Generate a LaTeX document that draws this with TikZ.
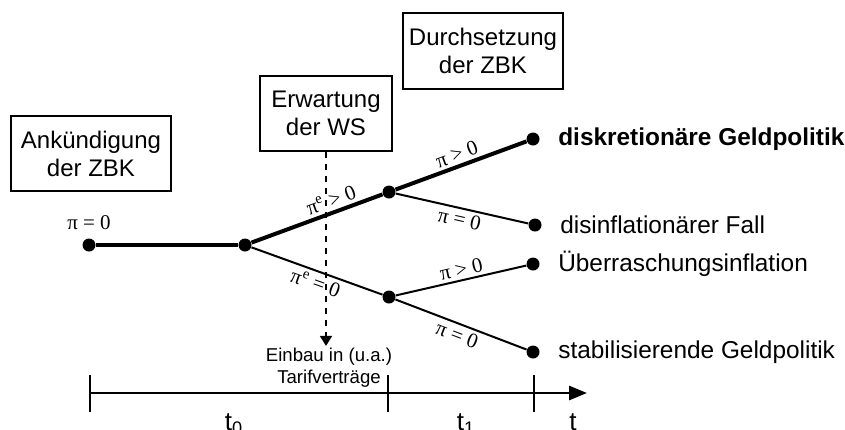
\documentclass[tikz,border=0pt]{standalone}
\usepackage{fontspec}
\setmainfont{Liberation Sans}
\newfontfamily\greekserif{Liberation Serif}
\usetikzlibrary{arrows.meta,positioning}
\tikzset{
  gp/box/.style={
    draw=black,
    line width=1pt,
    fill=white,
    align=center,
    inner sep=0pt,
    font=\fontsize{12}{14}\selectfont
  },
  gp/dot/.style={circle, fill=black, inner sep=0pt, minimum size=6.5pt},
  gp/heavy/.style={line width=2pt},
  gp/light/.style={line width=1pt},
  gp/pi/.style={font=\greekserif\fontsize{10.5}{12}\selectfont, sloped, inner sep=1.5pt},
  gp/outcome/.style={anchor=west, inner sep=0pt, font=\fontsize{12.2}{14}\selectfont},
  gp/dasharrow/.style={-{Triangle[length=5pt,width=6pt]}, line width=0.9pt, dashed},
  gp/axis/.style={-{Triangle[length=9pt,width=7pt]}, line width=1.4pt},
  gp/tick/.style={line width=0.9pt},
  gp/note/.style={align=center, inner sep=1pt, font=\fontsize{9.3}{11}\selectfont},
  gp/tlabel/.style={anchor=base, inner sep=0pt, font=\fontsize{13}{15}\selectfont}
}

\begin{document}
\begin{tikzpicture}[x=0.5pt,y=-0.5pt]
  \useasboundingbox (0,0) rectangle (845,429);
  % Akteure
  \node[gp/box,minimum width=80pt,minimum height=37.5pt] (ank) at (91,153.5) {Ankündigung\\der ZBK};
  \node[gp/box,minimum width=66pt,minimum height=37.5pt] (ws) at (326,113.5) {Erwartung\\der WS};
  \node[gp/box,minimum width=80pt,minimum height=38pt] (durch) at (483,51) {Durchsetzung\\der ZBK};
  % Entscheidungsbaum
  \node[gp/dot] (s) at (89,245) {};
  \node[gp/dot] (a) at (245,245) {};
  \node[gp/dot] (b) at (389,192) {};
  \node[gp/dot] (c) at (389,297) {};
  \node[gp/dot] (e1) at (533,139) {};
  \node[gp/dot] (e2) at (535,225) {};
  \node[gp/dot] (e3) at (533,264) {};
  \node[gp/dot] (e4) at (533,352) {};
  \node[gp/pi,inner sep=0pt,above=4pt of s] (pi0) {π = 0};
  \draw[gp/heavy] (s) -- (a);
  \draw[gp/heavy] (a) -- node[gp/pi,above,pos=0.64] {π\textsuperscript{e} > 0} (b);
  \draw[gp/light] (a) -- node[gp/pi,below,pos=0.52] {π\textsuperscript{e} = 0} (c);
  \draw[gp/heavy] (b) -- node[gp/pi,above] {π > 0} (e1);
  \draw[gp/light] (b) -- node[gp/pi,below] {π = 0} (e2);
  \draw[gp/light] (c) -- node[gp/pi,above,pos=0.52] {π > 0} (e3);
  \draw[gp/light] (c) -- node[gp/pi,below] {π = 0} (e4);
  \node[gp/outcome,right=9pt of e1] (o1) {\bfseries diskretionäre Geldpolitik};
  \node[gp/outcome,right=9pt of e2] (o2) {disinflationärer Fall};
  \node[gp/outcome,right=9pt of e3] (o3) {Überraschungsinflation};
  \node[gp/outcome,right=9pt of e4] (o4) {stabilisierende Geldpolitik};
  % Erwartungsbildung
  \node[gp/note] (einbau) at (329,368) {Einbau in (u.a.)\\Tarifverträge};
  \draw[gp/dasharrow] (ws.south) -- (ws.south |- einbau.north);
  % Zeitachse
  \coordinate (tstart) at (90,393);
  \coordinate (tend) at (587,393);
  \draw[gp/axis] (tstart) -- (tend);
  \foreach \x in {90,388,534}
    \draw[gp/tick] (\x,375) -- (\x,412);
  \node[gp/tlabel] (lt0) at (234,430) {t\textsubscript{0}};
  \node[gp/tlabel] (lt1) at (466,430) {t\textsubscript{1}};
  \node[gp/tlabel] (lt) at (573,430) {t};
\end{tikzpicture}
\end{document}
